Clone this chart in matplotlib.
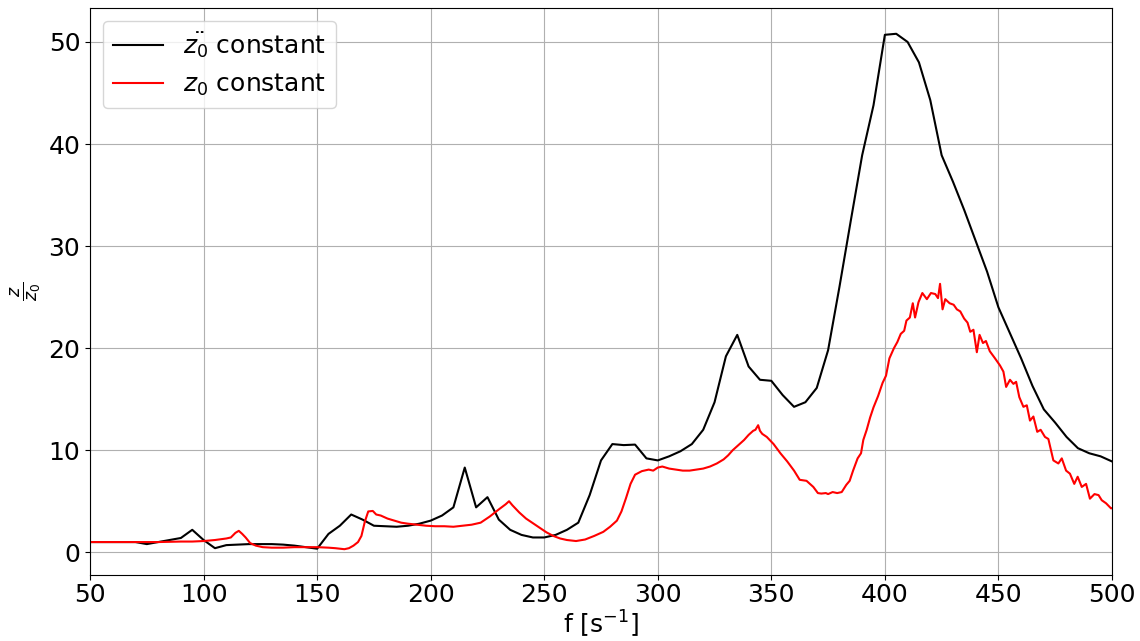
import numpy as np

import matplotlib
matplotlib.use('Agg')
import matplotlib.pyplot as plt

# Acceleration held constant (sampled every 5 Hz)
f_acc = np.arange(50, 505, 5)
z_acc = [1.0, 1.0, 1.0, 1.0, 1.0, 0.8, 1.0, 1.2, 1.4, 2.2,          # 50-95
         1.2, 0.4, 0.7, 0.75, 0.8, 0.8, 0.8, 0.75, 0.65, 0.5,       # 100-145
         0.35, 1.8, 2.6, 3.7, 3.2, 2.6, 2.55, 2.5, 2.6, 2.8,        # 150-195
         3.1, 3.6, 4.4, 8.3, 4.4, 5.4, 3.2, 2.2, 1.7, 1.45,         # 200-245
         1.45, 1.7, 2.2, 2.9, 5.6, 9.0, 10.6, 10.5, 10.55, 9.2,     # 250-295
         9.0, 9.4, 9.9, 10.6, 12.0, 14.7, 19.2, 21.3, 18.2, 16.9,   # 300-345
         16.8, 15.4, 14.25, 14.7, 16.1, 19.8, 26.0, 32.5, 38.9, 43.8,  # 350-395
         50.7, 50.8, 50.0, 48.0, 44.3, 38.9, 36.3, 33.5, 30.5, 27.5,   # 400-445
         24.0, 21.5, 19.0, 16.3, 14.0, 12.7, 11.3, 10.2, 9.7, 9.4,     # 450-495
         8.9]                                                          # 500

# Displacement held constant (finer sweep)
f_disp = [50, 60, 70, 80, 90, 95, 100, 105, 110, 112,
          114, 115.5, 117, 118.5, 120.5, 123, 126, 130, 135, 140,
          145, 150, 155, 158, 162, 164, 166, 168, 169.5, 171,
          172.5, 174.5, 176, 178, 181, 184, 187, 190, 194, 198,
          202, 206, 210, 214, 218, 222, 226, 230, 233, 234.5,
          236, 239, 242, 245, 248, 251, 254, 257, 260, 264,
          268, 272, 276, 279, 282, 284, 286, 288, 290, 293,
          296, 298, 300, 302, 305, 308, 311, 314, 317, 320,
          323, 326, 329, 331, 333, 336, 338, 340, 342, 343,
          344.2, 345, 346, 348, 351, 354, 357, 360, 362.5, 365.5,
          368.5, 370.5, 372, 374, 375, 377, 379, 381, 383, 384.5,
          386, 388, 389.5, 390.5, 392, 393.5, 395, 397, 399, 400.5,
          402, 404, 405.5, 407, 408.5, 409.5, 411, 412.3, 413.3, 414.8,
          416.5, 418.5, 420.3, 422.2, 423.4, 424.3, 425.4, 426.6, 428.5, 430.3,
          431.7, 433.2, 434.9, 436.4, 437.6, 439, 440.5, 441.7, 443.2, 444.5,
          446.2, 448.5, 450.7, 452.2, 453.4, 455.1, 456.6, 457.8, 459.2, 461,
          462.5, 463.9, 465.4, 467.1, 468.6, 470.5, 472, 474.2, 476.4, 477.9,
          479.8, 481.5, 483.4, 484.9, 486.7, 488.6, 490.3, 492.3, 494.1, 495.5,
          497.4, 499.6, 501]
z_disp = [1.0, 1.0, 1.0, 1.0, 1.05, 1.05, 1.1, 1.2, 1.35, 1.45,
          1.9, 2.1, 1.8, 1.45, 0.9, 0.65, 0.5, 0.45, 0.45, 0.5,
          0.5, 0.5, 0.45, 0.4, 0.3, 0.4, 0.65, 1.0, 1.6, 3.0,
          4.0, 4.05, 3.7, 3.6, 3.3, 3.1, 2.9, 2.8, 2.7, 2.6,
          2.55, 2.55, 2.5, 2.6, 2.7, 2.9, 3.5, 4.2, 4.7, 5.0,
          4.6, 3.9, 3.3, 2.85, 2.4, 1.95, 1.6, 1.35, 1.2, 1.1,
          1.25, 1.6, 2.0, 2.5, 3.1, 4.0, 5.3, 6.7, 7.6, 7.95,
          8.1, 8.0, 8.3, 8.4, 8.2, 8.1, 8.0, 8.0, 8.1, 8.2,
          8.4, 8.7, 9.1, 9.5, 10.0, 10.6, 11.0, 11.5, 11.9, 12.0,
          12.45, 11.9, 11.6, 11.3, 10.6, 9.7, 8.9, 8.0, 7.1, 7.0,
          6.4, 5.8, 5.75, 5.8, 5.7, 5.9, 5.8, 5.9, 6.6, 7.0,
          8.0, 9.2, 9.7, 11.0, 12.0, 13.2, 14.2, 15.3, 16.6, 17.3,
          19.0, 20.0, 20.6, 21.4, 21.7, 22.7, 23.0, 24.4, 23.0, 24.5,
          25.4, 24.8, 25.4, 25.3, 24.9, 26.3, 23.8, 24.8, 24.4, 24.25,
          23.8, 23.6, 22.9, 22.5, 21.6, 21.8, 19.6, 21.3, 20.5, 20.7,
          19.7, 19.0, 18.3, 17.7, 16.2, 16.9, 16.5, 16.7, 15.2, 14.25,
          14.4, 12.9, 13.3, 11.8, 12.0, 11.3, 11.1, 9.0, 8.7, 9.2,
          8.0, 7.7, 6.7, 7.4, 6.4, 6.7, 5.25, 5.7, 5.6, 5.1,
          4.8, 4.3, 4.4]

fig, ax = plt.subplots(figsize=(11.4, 6.41), dpi=100)
fig.subplots_adjust(left=0.079, right=0.9754, top=0.9875, bottom=0.103)

ax.plot(f_acc, z_acc, color='black', label=r'$\ddot{z_0}$ constant')
ax.plot(f_disp, z_disp, color='red', label=r'$z_0$ constant')

ax.set_xlim(50, 500)
ax.set_xticks(np.arange(50, 501, 50))
ax.set_xlabel(r'f [s$^{-1}$]', fontsize=18, labelpad=1)
ax.set_ylabel(r'$\frac{z}{z_0}$', fontsize=18)
ax.tick_params(labelsize=18)
ax.tick_params(axis='x', pad=2.5)
ax.grid(True)
ax.legend(loc='upper left', fontsize=18)

fig.savefig('out.png')
